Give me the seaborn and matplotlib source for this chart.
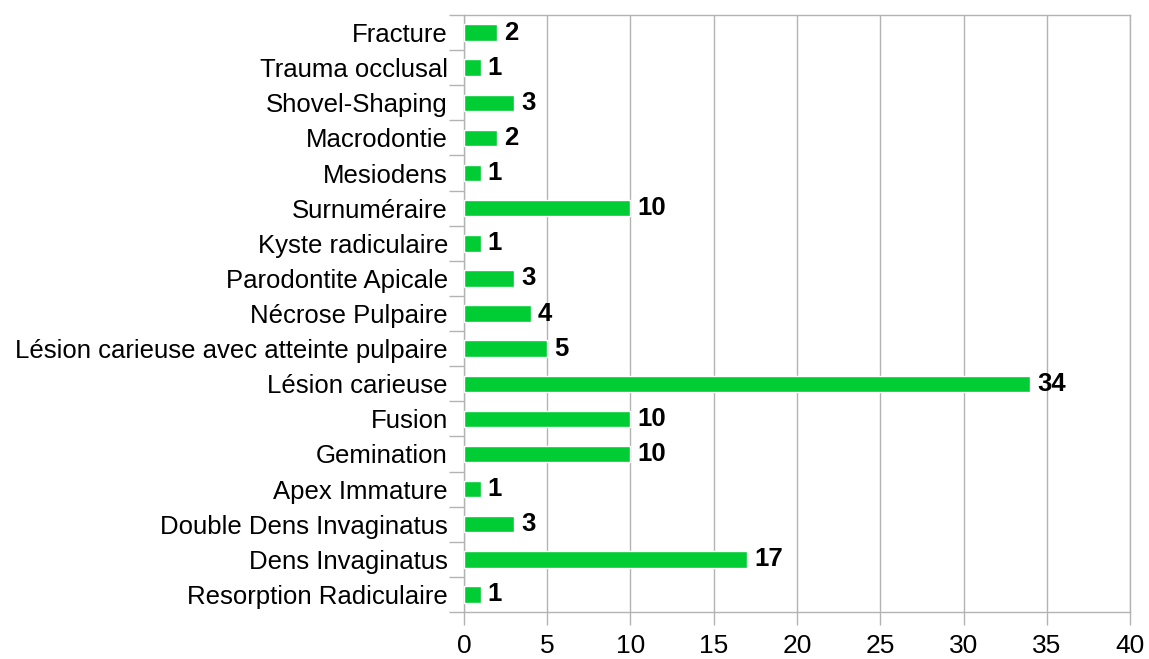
import seaborn as sns
import pandas as pd
from matplotlib import pyplot as plt

categories = [
    'Fracture', 'Trauma occlusal', 'Shovel-Shaping', 'Macrodontie', 'Mesiodens',
    'Surnuméraire', 'Kyste radiculaire', 'Parodontite Apicale', 'Nécrose Pulpaire',
    'Lésion carieuse avec atteinte pulpaire', 'Lésion carieuse', 'Fusion',
    'Gemination', 'Apex Immature', 'Double Dens Invaginatus', 'Dens Invaginatus',
    'Resorption Radiculaire',
]
counts = [2, 1, 3, 2, 1, 10, 1, 3, 4, 5, 34, 10, 10, 1, 3, 17, 1]
x_ticks = [0, 5, 10, 15, 20, 25, 30, 35, 40]

df = pd.DataFrame({'category': categories, 'count': counts})

sns.set_style('white')
plt.rcParams['font.family'] = ['Liberation Sans', 'DejaVu Sans']

grey = '#b3b3b3'
fig, ax = plt.subplots(figsize=(11.49, 6.59), dpi=100)
fig.subplots_adjust(left=0.4038, right=0.9835, top=0.9772, bottom=0.0713)

sns.barplot(data=df, x='count', y='category', color='#00cc33', saturation=1,
            width=0.47, ax=ax, zorder=3)

for i, v in enumerate(counts):
    ax.annotate(str(v), xy=(v, i), xytext=(5, 0), textcoords='offset points',
                va='center', ha='left', fontsize=18.5, fontweight='bold',
                color='black', zorder=4)

ax.set_xlim(0, 40)
ax.set_ylim(len(categories) - 0.5, -0.5)
ax.set_xticks(x_ticks)
ax.set_xticklabels([str(t) for t in x_ticks], fontsize=19)
ax.set_xlabel('')
ax.set_ylabel('')
ax.tick_params(axis='y', labelsize=18.5, length=0, pad=11.5, labelcolor='black')
ax.tick_params(axis='x', length=9, color=grey, width=1, pad=7, bottom=True,
               labelcolor='black')

# category boundary ticks on the left
ax.set_yticks([i - 0.5 for i in range(len(categories) + 1)], minor=True)
ax.tick_params(axis='y', which='minor', length=11, color=grey, width=1, left=True)

ax.xaxis.grid(True, color=grey, linewidth=1, zorder=0)
ax.yaxis.grid(False)
for side in ['top', 'bottom', 'left', 'right']:
    ax.spines[side].set_visible(True)
    ax.spines[side].set_color(grey)
    ax.spines[side].set_linewidth(1)

fig.savefig('out.png', dpi=100)
